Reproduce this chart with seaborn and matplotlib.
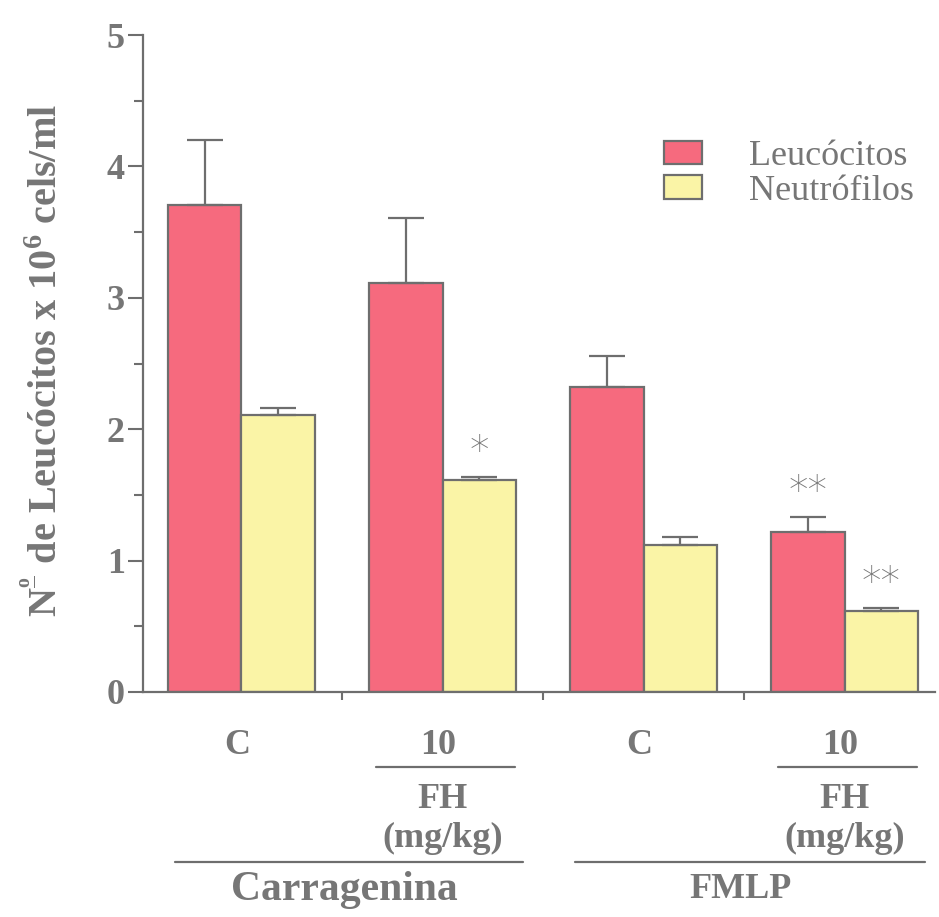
import matplotlib
matplotlib.use("Agg")
import matplotlib.pyplot as plt
import seaborn as sns
import pandas as pd
import numpy as np
from matplotlib.patches import Patch
from matplotlib.lines import Line2D
from matplotlib.transforms import blended_transform_factory

# ---- data ----
groups = ["Carragenina C", "Carragenina 10", "FMLP C", "FMLP 10"]
series = ["Leucócitos", "Neutrófilos"]
leuco_mean = [3.71, 3.11, 2.32, 1.22]
leuco_err = [0.49, 0.50, 0.24, 0.11]
neutro_mean = [2.11, 1.61, 1.12, 0.62]
neutro_err = [0.05, 0.03, 0.06, 0.02]
dose_labels = ["C", "10", "C", "10"]
stim_labels = ["Carragenina", "FMLP"]
stars_leuco = ["", "", "", "**"]
stars_neutro = ["", "*", "", "**"]
ytick_vals = [0, 1, 2, 3, 4, 5]

RED = "#F66A7E"
YEL = "#FAF4A6"
GRAY = "#6E6E6E"
TXT = "#767676"

sns.set_style("ticks")
plt.rcParams["font.family"] = ["Liberation Serif", "DejaVu Serif"]
plt.rcParams["mathtext.fontset"] = "custom"
plt.rcParams["mathtext.rm"] = "Liberation Serif:bold"
plt.rcParams["mathtext.it"] = "Liberation Serif:bold"
plt.rcParams["mathtext.bf"] = "Liberation Serif:bold"

df = pd.DataFrame({
    "group": groups * 2,
    "type": [series[0]] * 4 + [series[1]] * 4,
    "value": leuco_mean + neutro_mean,
})

W, H = 939, 917
fig = plt.figure(figsize=(W / 100, H / 100), dpi=100)
ax = fig.add_axes([143 / W, 1 - 692 / H, (935 - 143) / W, (692 - 35) / H])

sns.barplot(data=df, x="group", y="value", hue="type", order=groups,
            hue_order=series, palette=[RED, YEL], width=0.73,
            edgecolor=GRAY, linewidth=1.6, errorbar=None, legend=False,
            saturation=1, ax=ax)

# error bars (upper only), from bar positions
errs = [leuco_err, neutro_err]
means = [leuco_mean, neutro_mean]
stars = [stars_leuco, stars_neutro]
bar_conts = list(ax.containers)
for ci, cont in enumerate(bar_conts):
    xs = [p.get_x() + p.get_width() / 2 for p in cont.patches]
    ax.errorbar(xs, means[ci], yerr=[np.zeros(4), errs[ci]], fmt="none",
                ecolor=GRAY, elinewidth=1.6, capsize=13, capthick=1.6, zorder=1)
    for x, m, e, s in zip(xs, means[ci], errs[ci], stars[ci]):
        if s:
            ax.text(x, m + e + 0.045, s, ha="center", va="bottom",
                    fontsize=28, color=TXT, family="DejaVu Sans",
                    fontweight="light")

ax.set_ylim(0, 5)
ax.set_xlim(-0.49, 3.45)
ax.set_yticks(ytick_vals)
ax.set_yticks(np.arange(0.5, 5, 1.0), minor=True)
ax.set_yticklabels([str(v) for v in ytick_vals], fontsize=26,
                   fontweight="bold", color=TXT)
ax.set_xticks([0.5, 1.5, 2.5])
ax.set_xticklabels([])
ax.tick_params(axis="y", which="major", length=11, width=1.5, color=GRAY, pad=2)
ax.tick_params(axis="y", which="minor", length=6.5, width=1.5, color=GRAY)
ax.tick_params(axis="x", which="major", length=5.5, width=1.5, color=GRAY)
ax.set_xlabel("")
sns.despine(ax=ax)
for sp in ["left", "bottom"]:
    ax.spines[sp].set_color(GRAY)
    ax.spines[sp].set_linewidth(1.6)

ax.set_ylabel("N$^{\\frac{o}{\\,}}$ de Leucócitos x 10$^{6}$ cels/ml",
              fontsize=29, fontweight="bold", color=TXT)
ax.yaxis.set_label_coords(-0.098, 0.505)

# legend
handles = [Patch(facecolor=RED, edgecolor=GRAY, linewidth=1.6),
           Patch(facecolor=YEL, edgecolor=GRAY, linewidth=1.6)]
leg = ax.legend(handles, series, loc="upper left",
                bbox_to_anchor=(664 / W, 1 - 140 / H),
                bbox_transform=fig.transFigure, frameon=False,
                fontsize=26, handlelength=1.05, handleheight=0.62,
                handletextpad=1.3, labelspacing=0.05, borderpad=0,
                borderaxespad=0)
for t in leg.get_texts():
    t.set_color(TXT)

# category annotations below axis
tr = blended_transform_factory(ax.transData, fig.transFigure)

def fy(py):
    return 1 - py / H

for i, lab in enumerate(dose_labels):
    ax.text(i - 0.02, fy(745), lab, transform=tr, ha="center", va="center",
            fontsize=26, fontweight="bold", color=TXT)
for i in [1, 3]:
    ax.add_line(Line2D([i - 0.33, i + 0.36], [fy(767), fy(767)], transform=tr,
                       color=GRAY, linewidth=1.6, clip_on=False))
    ax.text(i, fy(800), "FH", transform=tr, ha="center", va="center",
            fontsize=26, fontweight="bold", color=TXT)
    ax.text(i, fy(838), "(mg/kg)", transform=tr, ha="center", va="center",
            fontsize=26, fontweight="bold", color=TXT)

ax.add_line(Line2D([-0.333, 1.40], [fy(862), fy(862)], transform=tr,
                   color=GRAY, linewidth=1.6, clip_on=False))
ax.add_line(Line2D([1.66, 3.40], [fy(862), fy(862)], transform=tr,
                   color=GRAY, linewidth=1.6, clip_on=False))
ax.text(0.51, fy(890), stim_labels[0], transform=tr, ha="center", va="center",
        fontsize=30, fontweight="bold", color=TXT)
ax.text(2.48, fy(890), stim_labels[1], transform=tr, ha="center", va="center",
        fontsize=26, fontweight="bold", color=TXT)

fig.savefig("out.png", dpi=100)
